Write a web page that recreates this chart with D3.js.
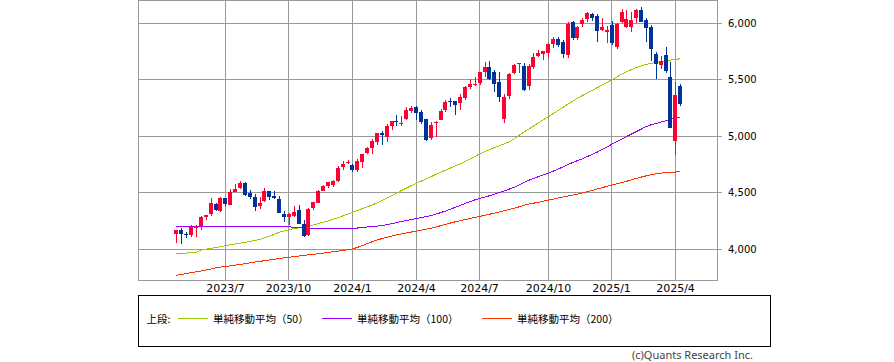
<!DOCTYPE html>
<html><head><meta charset="utf-8">
<script src="https://cdn.jsdelivr.net/npm/d3@7/dist/d3.min.js"></script>
<style>html,body{margin:0;padding:0;background:#fff;}svg{display:block;}</style>
</head><body>
<script>
// ---- data (S&P 500 weekly) ----
const dates = ["2023-04-24","2023-05-01","2023-05-08","2023-05-15","2023-05-22","2023-05-29","2023-06-05","2023-06-12","2023-06-19","2023-06-26",
"2023-07-03","2023-07-10","2023-07-17","2023-07-24","2023-07-31","2023-08-07","2023-08-14","2023-08-21","2023-08-28","2023-09-04",
"2023-09-11","2023-09-18","2023-09-25","2023-10-02","2023-10-09","2023-10-16","2023-10-23","2023-10-30","2023-11-06","2023-11-13",
"2023-11-20","2023-11-27","2023-12-04","2023-12-11","2023-12-18","2023-12-25","2024-01-01","2024-01-08","2024-01-15","2024-01-22",
"2024-01-29","2024-02-05","2024-02-12","2024-02-19","2024-02-26","2024-03-04","2024-03-11","2024-03-18","2024-03-25","2024-04-01",
"2024-04-08","2024-04-15","2024-04-22","2024-04-29","2024-05-06","2024-05-13","2024-05-20","2024-05-27","2024-06-03","2024-06-10",
"2024-06-17","2024-06-24","2024-07-01","2024-07-08","2024-07-15","2024-07-22","2024-07-29","2024-08-05","2024-08-12","2024-08-19",
"2024-08-26","2024-09-02","2024-09-09","2024-09-16","2024-09-23","2024-09-30","2024-10-07","2024-10-14","2024-10-21","2024-10-28",
"2024-11-04","2024-11-11","2024-11-18","2024-11-25","2024-12-02","2024-12-09","2024-12-16","2024-12-23","2024-12-30","2025-01-06",
"2025-01-13","2025-01-20","2025-01-27","2025-02-03","2025-02-10","2025-02-17","2025-02-24","2025-03-03","2025-03-10","2025-03-17",
"2025-03-24","2025-03-31","2025-04-07","2025-04-14"];
const open = [4132,4167,4136,4126,4190,4205,4282,4310,4396,4337,
4450,4394,4506,4543,4585,4492,4465,4380,4427,4511,
4473,4445,4311,4284,4289,4342,4225,4121,4365,4412,
4515,4555,4564,4607,4726,4758,4745,4703,4772,4853,
4892,4951,5026,4989,5093,5131,5111,5154,5219,5258,
5218,5149,4987,5114,5142,5233,5316,5315,5297,5341,
5432,5456,5471,5572,5613,5565,5476,5151,5353,5557,
5637,5624,5442,5615,5711,5726,5737,5820,5857,5833,
5723,6008,5874,5992,6040,6083,6063,5940,5920,5983,
5794,6014,5969,5969,6046,6121,6026,5969,5724,5635,
5718,5527,4953,5442];
const high = [4170,4186,4154,4212,4212,4290,4299,4448,4409,4458,
4456,4528,4578,4607,4594,4527,4491,4458,4541,4514,
4511,4466,4338,4318,4385,4394,4256,4366,4421,4521,
4568,4595,4609,4738,4778,4793,4755,4802,4842,4903,
4975,5030,5048,5111,5138,5190,5180,5262,5265,5264,
5229,5150,5123,5132,5240,5325,5342,5315,5375,5447,
5506,5523,5570,5656,5670,5585,5566,5370,5563,5643,
5651,5652,5636,5733,5767,5758,5822,5878,5879,5850,
6012,6018,5974,6045,6099,6090,6085,6050,5978,6022,
6000,6128,6120,6101,6128,6147,6044,5987,5745,5715,
5787,5655,5481,5460];
const low = [4049,4048,4098,4109,4103,4166,4261,4292,4341,4328,
4385,4386,4504,4528,4474,4443,4335,4356,4417,4430,
4446,4317,4238,4216,4283,4223,4104,4113,4343,4408,
4511,4537,4546,4592,4699,4751,4682,4682,4715,4842,
4845,4919,4920,4946,5058,5094,5087,5140,5204,5147,
5107,4954,4963,4990,5142,5211,5257,5191,5234,5324,
5420,5447,5452,5528,5497,5390,5302,5120,5330,5552,
5560,5402,5406,5591,5698,5674,5696,5784,5794,5696,
5696,5853,5853,5964,6015,6024,5832,5929,5829,5809,
5773,5999,5962,5923,6003,6009,5837,5667,5505,5597,
5558,5069,4835,5267];
const close = [4169,4136,4124,4192,4205,4282,4299,4410,4348,4450,
4399,4505,4536,4582,4478,4464,4370,4406,4516,4457,
4450,4320,4288,4309,4328,4224,4117,4358,4415,4514,
4559,4595,4604,4719,4755,4770,4697,4784,4840,4891,
4959,5027,5006,5089,5137,5124,5117,5234,5254,5204,
5123,4967,5100,5128,5223,5303,5305,5278,5347,5432,
5464,5460,5567,5615,5505,5459,5347,5344,5554,5635,
5648,5408,5626,5703,5738,5751,5815,5865,5808,5729,
5996,5870,5969,6032,6090,6051,5931,5970,5942,5827,
5997,6101,6041,6026,6115,6013,5955,5770,5639,5668,
5581,5074,5363,5283];
// simple moving averages
const sma50 = [3962,3963,3964,3966,3970,3990,3998,4005,4012,4020,
4030,4038,4045,4052,4058,4066,4075,4085,4098,4112,
4130,4148,4160,4170,4180,4188,4196,4204,4214,4225,
4237,4248,4262,4277,4293,4309,4325,4341,4357,4373,
4390,4408,4428,4450,4472,4495,4518,4540,4561,4581,
4600,4620,4640,4660,4680,4698,4717,4736,4755,4775,
4797,4820,4843,4862,4880,4898,4915,4932,4948,4975,
5005,5035,5062,5090,5118,5145,5171,5199,5227,5255,
5282,5309,5336,5360,5383,5406,5429,5452,5476,5500,
5524,5548,5570,5590,5607,5622,5635,5645,5653,5660,
5667,5674,5680,5686];
const sma100 = [4203,4203,4203,4203,4203,4203,4203,4203,4203,4203,
4203,4203,4203,4203,4203,4203,4203,4203,4203,4203,
4203,4203,4203,4198,4192,4189,4187,4185,4183,4182,
4181,4180,4180,4181,4182,4183,4184,4186,4190,4195,
4199,4203,4207,4215,4225,4234,4243,4252,4261,4270,
4278,4286,4296,4308,4322,4336,4352,4369,4386,4403,
4420,4435,4448,4460,4472,4485,4499,4515,4530,4546,
4565,4588,4608,4625,4641,4656,4670,4689,4708,4727,
4748,4766,4783,4800,4819,4838,4858,4880,4903,4928,
4950,4972,4996,5018,5040,5062,5084,5100,5112,5124,
5136,5148,5158,5166];
const sma200 = [3767,3774,3782,3790,3797,3805,3813,3821,3833,3840,
3845,3851,3857,3863,3870,3877,3884,3890,3896,3903,
3909,3915,3921,3927,3933,3938,3943,3948,3953,3958,
3964,3970,3976,3981,3987,3993,4000,4014,4030,4048,
4064,4079,4092,4104,4115,4125,4134,4142,4150,4158,
4166,4175,4184,4195,4206,4218,4230,4241,4251,4261,
4270,4279,4289,4298,4308,4318,4329,4340,4350,4361,
4373,4386,4398,4406,4414,4423,4433,4442,4451,4460,
4469,4478,4487,4497,4508,4519,4531,4543,4555,4566,
4577,4588,4600,4612,4625,4637,4648,4658,4666,4672,
4677,4680,4682,4684];
const xTickDates = ["2023-07-03","2023-10-02","2024-01-01","2024-04-01","2024-07-01","2024-10-07","2025-01-06","2025-04-07"];
const xTickLabels = ["2023/7","2023/10","2024/1","2024/4","2024/7","2024/10","2025/1","2025/4"];
const yTicks = [4000,4500,5000,5500,6000];
const seriesNames = ["単純移動平均（50）","単純移動平均（100）","単純移動平均（200）"];
const seriesColors = ["#99cc00","#9900ff","#ff3300"];

// ---- layout ----
const W = 894, H = 362;
const L = 138, R = 717, T = 0, B = 280;
const parse = d3.utcParse("%Y-%m-%d");
const day = 864e5;
const t0 = parse("2023-04-24").getTime();
const x = d3.scaleUtc()
  .domain([new Date(t0 - 54.94*day), new Date(t0 + 773.67*day)])
  .range([L, R]);
const y = d3.scaleLinear().domain([3725.3, 6206.9]).range([B, T]);

const svg = d3.select("body").append("svg").attr("width", W).attr("height", H)
  .style("font-family", "'DejaVu Sans', sans-serif");
svg.append("rect").attr("width", W).attr("height", H).attr("fill", "#fff");

const grid = svg.append("g").attr("shape-rendering", "crispEdges").attr("stroke", "#999").attr("stroke-width", 1);
yTicks.forEach(v => {
  const yy = Math.floor(y(v)) + 0.5;
  grid.append("line").attr("x1", L).attr("x2", R + 5).attr("y1", yy).attr("y2", yy);
});
xTickDates.forEach(d => {
  const xx = Math.floor(x(parse(d))) + 0.5;
  grid.append("line").attr("x1", xx).attr("x2", xx).attr("y1", T).attr("y2", B);
});
grid.append("rect").attr("x", L + 0.5).attr("y", T + 0.5).attr("width", R - L).attr("height", B - T).attr("fill", "none");

// y labels
svg.append("g").selectAll("text").data(yTicks).join("text")
  .attr("x", 728).attr("y", v => Math.floor(y(v)) + 4.3)
  .attr("font-size", 10).attr("fill", "#000")
  .text(v => d3.format(",")(v));
// x labels
svg.append("g").selectAll("text").data(xTickDates).join("text")
  .attr("x", d => Math.floor(x(parse(d))) + 0.5).attr("y", 292)
  .attr("text-anchor", "middle").attr("font-size", 11).attr("fill", "#000")
  .text((d, i) => xTickLabels[i]);

// moving averages
const mas = [sma50, sma100, sma200];
const lg = svg.append("g").attr("fill", "none").attr("stroke-width", 1).attr("shape-rendering", "crispEdges");
mas.forEach((arr, k) => {
  const line = d3.line().x((v, i) => x(parse(dates[i]))).y(v => y(v));
  lg.append("path").attr("d", line(arr)).attr("stroke", seriesColors[k]);
});

// candles
const cg = svg.append("g").attr("shape-rendering", "crispEdges");
dates.forEach((d, i) => {
  const cx = x(parse(d));
  const bx = Math.round(cx - 2);
  const up = close[i] >= open[i];
  const col = up ? "#ff0033" : "#003399";
  const wx = bx + 2.5;
  cg.append("line").attr("x1", wx).attr("x2", wx)
    .attr("y1", Math.round(y(high[i]))).attr("y2", Math.round(y(low[i])))
    .attr("stroke", col).attr("stroke-width", 1);
  const yt = Math.round(y(Math.max(open[i], close[i])));
  const yb = Math.round(y(Math.min(open[i], close[i])));
  cg.append("rect").attr("x", bx).attr("y", yt).attr("width", 4).attr("height", Math.max(1, yb - yt)).attr("fill", col);
});

// legend
const leg = svg.append("g").style("font-family", "'Noto Sans CJK JP', sans-serif");
leg.append("rect").attr("x", 138.5).attr("y", 295.5).attr("width", 632).attr("height", 51)
  .attr("fill", "none").attr("stroke", "#000").attr("shape-rendering", "crispEdges");
leg.append("text").attr("x", 146.5).attr("y", 318).attr("dominant-baseline", "central")
  .attr("font-size", 10.5).attr("fill", "#000").text("上段:");
const legX = [178, 322, 482];
seriesNames.forEach((n, k) => {
  leg.append("line").attr("x1", legX[k]).attr("x2", legX[k] + 30).attr("y1", 318.5).attr("y2", 318.5)
    .attr("stroke", seriesColors[k]).attr("shape-rendering", "crispEdges");
  leg.append("text").attr("x", legX[k] + 35).attr("y", 318).attr("dominant-baseline", "central")
    .attr("font-size", 10.5).attr("fill", "#000").text(n);
});
svg.append("text").attr("x", 753).attr("y", 359).attr("text-anchor", "end")
  .attr("font-size", 11).attr("fill", "#444").style("font-family", "'Noto Sans', sans-serif")
  .text("(c)Quants Research Inc.");
</script>
</body></html>
